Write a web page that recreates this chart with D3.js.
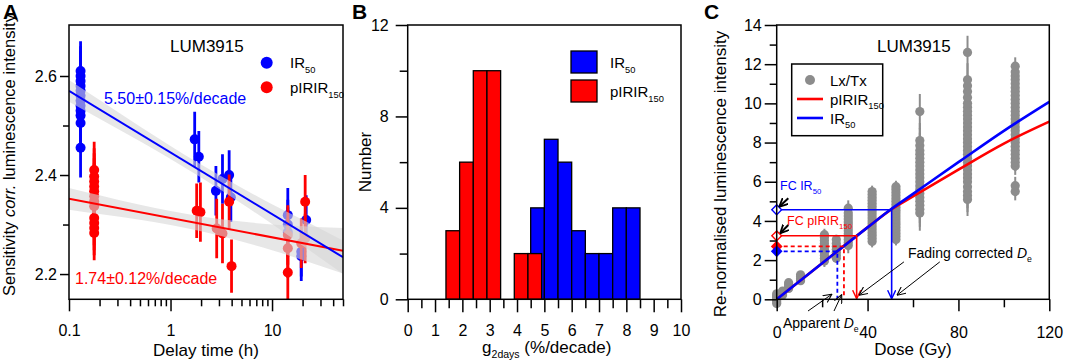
<!DOCTYPE html>
<html>
<head>
<meta charset="utf-8">
<script src="https://cdn.jsdelivr.net/npm/d3@7"></script>
<style>
  body { margin: 0; background: #fff; }
  svg text { font-family: "Liberation Sans", Arial, Helvetica, sans-serif; }
</style>
</head>
<body>
<svg id="fig" width="1065" height="364"></svg>
<script>
// ---------- Panel A : sensitivity corrected intensity vs delay time ----------
var irT   = [0.13,0.13,0.13,0.13,0.13,0.13,0.13,0.13,0.13,0.13,0.13,0.13, 1.73,1.9,2.8,3.25,3.78,3.93, 14.3,14.3,14.3,19.4,19.4,21.7];
var irVal = [2.61,2.60,2.59,2.58,2.57,2.56,2.55,2.54,2.53,2.52,2.505,2.455, 2.472,2.437,2.368,2.392,2.40,2.355, 2.319,2.30,2.285,2.245,2.236,2.309];
var irErr = [0.06,0.06,0.06,0.06,0.06,0.06,0.06,0.06,0.06,0.06,0.06,0.06, 0.056,0.052,0.05,0.05,0.05,0.05, 0.055,0.05,0.05,0.05,0.05,0.05];

var pirT   = [0.177,0.177,0.177,0.177,0.177,0.177,0.177,0.177,0.177,0.177,0.177,0.177, 1.81,1.97,2.85,3.25,3.78,3.99, 14.3,14.3,14.3,19.4,21.2,21.2];
var pirVal = [2.41,2.397,2.387,2.377,2.367,2.357,2.347,2.337,2.313,2.303,2.293,2.283, 2.328,2.325,2.292,2.282,2.346,2.216, 2.279,2.252,2.203,2.262,2.272,2.346];
var pirErr = [0.057,0.057,0.057,0.057,0.057,0.057,0.057,0.057,0.055,0.055,0.055,0.055, 0.055,0.06,0.06,0.06,0.055,0.054, 0.06,0.06,0.063,0.05,0.05,0.054];

// fitted lines (ends) and confidence band half-widths
var fitT   = [0.1, 50];
var fitIr  = [2.570, 2.234];
var fitPir = [2.352, 2.247];
var bandT    = [0.1, 0.2, 0.5, 1, 2, 5, 10, 20, 50];
var bandIr   = [0.022, 0.019, 0.015, 0.013, 0.013, 0.016, 0.020, 0.026, 0.034];
var bandPir  = [0.022, 0.019, 0.015, 0.014, 0.015, 0.020, 0.026, 0.034, 0.046];

var aMajor = [0.1, 1, 10];
var aMinor = [0.2,0.3,0.4,0.5,0.6,0.7,0.8,0.9, 2,3,4,5,6,7,8,9, 20,30,40,50];
var aYMajor = [2.2, 2.4, 2.6];
var aYMinor = [2.3, 2.5];

// ---------- Panel B : histogram of g2days ----------
var binW = 0.5;
var redBinLo  = [1.4, 1.9, 2.4, 2.9, 3.9, 4.4];
var redCount  = [3, 6, 10, 10, 2, 2];
var blueBinLo = [4.5, 5.0, 5.5, 6.0, 6.5, 7.0, 7.5, 8.0];
var blueCount = [4, 7, 6, 3, 2, 2, 4, 4];
var bXMajor = [0,1,2,3,4,5,6,7,8,9,10];
var bXMinor = [0.5,1.5,2.5,3.5,4.5,5.5,6.5,7.5,8.5,9.5];
var bYMajor = [0, 4, 8, 12];
var bYMinor = [2, 6, 10];

// ---------- Panel C : dose response ----------
var lxDose = [0, 2.6, 5.25, 10.5, 21, 26.25, 31.5, 42, 52.5, 63, 84, 105];
var lxVals = [
  [-0.22,-0.12,-0.02,0.05,0.12,0.2,0.28],
  [0.22,0.32,0.42],
  [0.55,0.65,0.75,0.85],
  [0.95,1.05,1.15,1.25],
  [1.95,2.1,2.25,2.4,2.55,2.7,2.85,3.0,3.15,3.3],
  [2.1,2.25,2.4,2.55,2.7,2.85,3.05],
  [2.75,2.9,3.05,3.2,3.35,3.5,3.65,3.8,3.95,4.1,4.25,4.4,4.65],
  [2.95,3.1,3.25,3.4,3.55,3.7,3.85,4.0,4.15,4.3,4.45,4.6,4.75,4.9,5.05,5.2,5.35,5.5],
  [3.05,3.2,3.35,3.5,3.65,3.8,3.95,4.1,4.25,4.4,4.55,4.7,4.85,5.0,5.15,5.3,5.45,5.6,5.75],
  [4.4,4.6,4.8,5.0,5.2,5.4,5.6,5.8,6.0,6.2,6.4,6.6,6.8,7.0,7.2,7.4,7.6,7.85,8.1,9.58],
  [5.1,5.3,5.5,5.75,6.0,6.2,6.4,6.6,6.8,7.0,7.2,7.4,7.6,7.8,8.0,8.2,8.4,8.6,8.8,9.0,9.2,9.4,9.6,9.8,10.0,10.3,10.6,10.9,11.2,12.6],
  [5.5,5.8,6.8,7.0,7.2,7.4,7.6,7.8,8.0,8.2,8.4,8.6,8.8,9.0,9.2,9.4,9.6,9.8,10.0,10.2,10.4,10.6,10.8,11.0,11.2,11.4,11.6,11.9]
];
var lxErr = [0.15, 0.1, 0.1, 0.1, 0.3, 0.25, 0.4, 0.3, 0.3, 0.9, 0.85, 0.45];

var fitDose = [0, 20, 40, 50, 60, 80, 100, 120];
var fitIrC  = [0, 1.84, 3.67, 4.57, 5.38, 7.0, 8.6, 10.08];
var fitPirC = [0, 1.84, 3.67, 4.55, 5.25, 6.62, 7.95, 9.07];

// fading corrected / apparent intensities and doses
var fcIr = 4.57, fcPir = 3.24, apIr = 2.45, apPir = 2.70;
var deFcIr = 50.6, deFcPir = 35.2, deApIr = 26.7, deApPir = 29.6;

var cXMajor = [0, 40, 80, 120];
var cXMinor = [20, 60, 100];
var cYMajor = [0,2,4,6,8,10,12,14];
var cYMinor = [1,3,5,7,9,11,13];

var BLUE = "#0000ff", RED = "#ff0000", GREY = "#8c8c8c";

var svg = d3.select("#fig");
svg.append("rect").attr("width", 1065).attr("height", 364).attr("fill", "#fff");

// text with italic / subscript parts
function richText(x, y, parts, size, color, anchor, rotate) {
  var t = svg.append("text")
    .attr("x", x).attr("y", y)
    .attr("font-size", size)
    .attr("fill", color || "#000")
    .attr("text-anchor", anchor || "start");
  if (rotate) t.attr("transform", "rotate(-90," + x + "," + y + ")");
  var shift = 0;
  parts.forEach(function(p) {
    if (typeof p === "string") p = {t: p};
    var s = t.append("tspan").text(p.t);
    var dy;
    if (p.sub) { dy = size * 0.3 - shift; shift = size * 0.3; s.attr("font-size", size * 0.62); }
    else { dy = -shift; shift = 0; }
    if (dy) s.attr("dy", dy);
    if (p.it) s.attr("font-style", "italic");
  });
  return t;
}

function styleAxis(g, size) {
  g.attr("font-family", null).attr("font-size", null);
  g.select(".domain").remove();
  g.selectAll("line").attr("stroke", "#000").attr("stroke-width", 1.5);
  g.selectAll("text").attr("font-size", size || 16).attr("fill", "#000");
}

function frame(x0, y0, x1, y1) {
  svg.append("rect").attr("x", x0).attr("y", y0)
    .attr("width", x1 - x0).attr("height", y1 - y0)
    .attr("fill", "none").attr("stroke", "#000").attr("stroke-width", 1.5);
}

var defs = svg.append("defs");
function head(id, color, w) {
  defs.append("marker").attr("id", id)
    .attr("viewBox", "0 -5 10 10").attr("refX", 9).attr("refY", 0)
    .attr("markerWidth", 9).attr("markerHeight", 9)
    .attr("markerUnits", "userSpaceOnUse").attr("orient", "auto")
    .append("path").attr("d", "M0,-4.5L9.5,0L0,4.5")
    .attr("fill", "none").attr("stroke", color).attr("stroke-width", w);
}
head("hThin", "#000", 1.2);
head("hBold", "#000", 2);
head("hRed", RED, 1.6);
head("hBlue", BLUE, 1.6);

// =================== Panel A ===================
var xA = d3.scaleLog().domain([0.1, 50]).range([69, 343]);
var yA = d3.scaleLinear().domain([2.149, 2.703]).range([299.3, 25]);

defs.append("clipPath").attr("id", "clipA").append("rect")
  .attr("x", 69).attr("y", 25).attr("width", 274).attr("height", 274.3);
var gA = svg.append("g").attr("clip-path", "url(#clipA)");

function seriesA(ts, vs, es, color) {
  var pts = ts.map(function(t, i) { return {t: t, v: vs[i], e: es[i]}; });
  gA.append("g").selectAll("line").data(pts).join("line")
    .attr("x1", function(d) { return xA(d.t); }).attr("x2", function(d) { return xA(d.t); })
    .attr("y1", function(d) { return yA(d.v - d.e); }).attr("y2", function(d) { return yA(d.v + d.e); })
    .attr("stroke", color).attr("stroke-width", 2.8);
  gA.append("g").selectAll("circle").data(pts).join("circle")
    .attr("cx", function(d) { return xA(d.t); }).attr("cy", function(d) { return yA(d.v); })
    .attr("r", 5).attr("fill", color);
}
seriesA(irT, irVal, irErr, BLUE);
seriesA(pirT, pirVal, pirErr, RED);

function bandA(fitVals, half) {
  var line = d3.scaleLog().domain(fitT).range(fitVals);
  var rows = bandT.map(function(t, i) { return {t: t, lo: line(t) - half[i], hi: line(t) + half[i]}; });
  gA.append("path").datum(rows)
    .attr("d", d3.area().curve(d3.curveMonotoneX)
      .x(function(d) { return xA(d.t); })
      .y0(function(d) { return yA(d.lo); })
      .y1(function(d) { return yA(d.hi); }))
    .attr("fill", "#d7d7d7").attr("fill-opacity", 0.6);
}
bandA(fitIr, bandIr);
bandA(fitPir, bandPir);

function fitLineA(vals, color) {
  gA.append("path").datum(fitT.map(function(t, i) { return [t, vals[i]]; }))
    .attr("d", d3.line().x(function(d) { return xA(d[0]); }).y(function(d) { return yA(d[1]); }))
    .attr("fill", "none").attr("stroke", color).attr("stroke-width", 2);
}
fitLineA(fitPir, RED);
fitLineA(fitIr, BLUE);

frame(69, 25, 343, 299.3);

styleAxis(svg.append("g").attr("transform", "translate(0,299.3)")
  .call(d3.axisBottom(xA).tickValues(aMajor).tickFormat(function(d) { return String(d); }).tickSize(12).tickPadding(13)));
styleAxis(svg.append("g").attr("transform", "translate(0,299.3)")
  .call(d3.axisBottom(xA).tickValues(aMinor).tickFormat("").tickSize(7)));
styleAxis(svg.append("g").attr("transform", "translate(69,0)")
  .call(d3.axisLeft(yA).tickValues(aYMajor).tickFormat(d3.format(".1f")).tickSize(9).tickPadding(3)));
styleAxis(svg.append("g").attr("transform", "translate(69,0)")
  .call(d3.axisLeft(yA).tickValues(aYMinor).tickFormat("").tickSize(6)));

richText(206, 356, ["Delay time (h)"], 17, "#000", "middle");
richText(15, 155, ["Sensitivity ", {t: "corr.", it: true}, " luminescence intensity"], 16.5, "#000", "middle", true);
richText(3, 19, ["A"], 21, "#000").attr("font-weight", "bold");
richText(170, 52, ["LUM3915"], 17, "#000");
svg.append("circle").attr("cx", 266.7).attr("cy", 62.7).attr("r", 6).attr("fill", BLUE);
svg.append("circle").attr("cx", 266.7).attr("cy", 87.3).attr("r", 6).attr("fill", RED);
richText(290, 68, ["IR", {t: "50", sub: true}], 15, "#000");
richText(290, 93, ["pIRIR", {t: "150", sub: true}], 15, "#000");
richText(104, 103.5, ["5.50\u00b10.15%/decade"], 16, BLUE);
richText(75, 284, ["1.74\u00b10.12%/decade"], 16, RED);

// =================== Panel B ===================
var xB = d3.scaleLinear().domain([0, 10]).range([407.7, 681]);
var yB = d3.scaleLinear().domain([0, 12]).range([299.3, 25]);

function barsB(lo, cnt, color) {
  svg.append("g").selectAll("rect").data(lo.map(function(l, i) { return {l: l, n: cnt[i]}; })).join("rect")
    .attr("x", function(d) { return xB(d.l); })
    .attr("width", function(d) { return xB(d.l + binW) - xB(d.l); })
    .attr("y", function(d) { return yB(d.n); })
    .attr("height", function(d) { return yB(0) - yB(d.n); })
    .attr("fill", color).attr("stroke", "#000").attr("stroke-width", 1.3);
}
barsB(blueBinLo, blueCount, BLUE);
barsB(redBinLo, redCount, RED);

frame(407.7, 25, 681, 299.3);
styleAxis(svg.append("g").attr("transform", "translate(0,299.3)")
  .call(d3.axisBottom(xB).tickValues(bXMajor).tickFormat(d3.format("d")).tickSize(13).tickPadding(12)));
styleAxis(svg.append("g").attr("transform", "translate(0,299.3)")
  .call(d3.axisBottom(xB).tickValues(bXMinor).tickFormat("").tickSize(9)));
styleAxis(svg.append("g").attr("transform", "translate(407.7,0)")
  .call(d3.axisLeft(yB).tickValues(bYMajor).tickFormat(d3.format("d")).tickSize(12).tickPadding(7)));
styleAxis(svg.append("g").attr("transform", "translate(407.7,0)")
  .call(d3.axisLeft(yB).tickValues(bYMinor).tickFormat("").tickSize(8)));

richText(546.7, 353, ["g", {t: "2days", sub: true}, " (%/decade)"], 17, "#000", "middle");
richText(371, 162, ["Number"], 17, "#000", "middle", true);
richText(352, 19, ["B"], 21, "#000").attr("font-weight", "bold");
svg.append("rect").attr("x", 571).attr("y", 51).attr("width", 26).attr("height", 22)
  .attr("fill", BLUE).attr("stroke", "#000").attr("stroke-width", 1.3);
svg.append("rect").attr("x", 571).attr("y", 80).attr("width", 26).attr("height", 22)
  .attr("fill", RED).attr("stroke", "#000").attr("stroke-width", 1.3);
richText(610, 68, ["IR", {t: "50", sub: true}], 15, "#000");
richText(610, 97, ["pIRIR", {t: "150", sub: true}], 15, "#000");

// =================== Panel C ===================
var xC = d3.scaleLinear().domain([0, 120]).range([776.7, 1049.3]);
var yC = d3.scaleLinear().domain([0, 14]).range([299.3, 25]);

var lxPts = [];
lxDose.forEach(function(d, i) {
  lxVals[i].forEach(function(v) { lxPts.push({d: d, v: v, e: lxErr[i]}); });
});
var gC = svg.append("g");
gC.append("g").selectAll("line").data(lxPts).join("line")
  .attr("x1", function(p) { return xC(p.d); }).attr("x2", function(p) { return xC(p.d); })
  .attr("y1", function(p) { return yC(p.v - p.e); }).attr("y2", function(p) { return yC(p.v + p.e); })
  .attr("stroke", GREY).attr("stroke-width", 2);
gC.append("g").selectAll("circle").data(lxPts).join("circle")
  .attr("cx", function(p) { return xC(p.d); }).attr("cy", function(p) { return yC(p.v); })
  .attr("r", 4.6).attr("fill", GREY);

var lineC = d3.line().curve(d3.curveMonotoneX)
  .x(function(d) { return xC(d[0]); }).y(function(d) { return yC(d[1]); });
gC.append("path").datum(fitDose.map(function(d, i) { return [d, fitPirC[i]]; }))
  .attr("d", lineC).attr("fill", "none").attr("stroke", RED).attr("stroke-width", 2.6);
gC.append("path").datum(fitDose.map(function(d, i) { return [d, fitIrC[i]]; }))
  .attr("d", lineC).attr("fill", "none").attr("stroke", BLUE).attr("stroke-width", 2.6);

function deLines(level, de, color, marker, dashed) {
  var path = d3.path();
  path.moveTo(xC(0), yC(level));
  path.lineTo(xC(de), yC(level));
  path.lineTo(xC(de), yC(0) - 1);
  var p = gC.append("path").attr("d", path.toString())
    .attr("fill", "none").attr("stroke", color).attr("stroke-width", dashed ? 1.8 : 1.6);
  if (dashed) p.attr("stroke-dasharray", "4,3");
  if (marker) p.attr("marker-end", "url(#" + marker + ")");
}
deLines(apIr, deApIr, BLUE, null, true);
deLines(apPir, deApPir, RED, null, true);
deLines(fcPir, deFcPir, RED, "hRed", false);
deLines(fcIr, deFcIr, BLUE, "hBlue", false);

var diamond = d3.symbol(d3.symbolSquare, 48);
function diamondAt(v, color, filled) {
  gC.append("path").attr("d", diamond())
    .attr("transform", "translate(" + xC(0) + "," + yC(v) + ") rotate(45)")
    .attr("fill", filled ? color : "#fff").attr("stroke", color).attr("stroke-width", 1.4);
}
diamondAt(fcIr, BLUE, false);
diamondAt(fcPir, RED, false);
diamondAt(apPir, RED, true);
diamondAt(apIr, BLUE, true);

function arrowC(x0, y0, x1, y1, marker, w) {
  gC.append("line").attr("x1", x0).attr("y1", y0).attr("x2", x1).attr("y2", y1)
    .attr("stroke", "#000").attr("stroke-width", w).attr("marker-end", "url(#" + marker + ")");
}
arrowC(788.3, 198.3, 779.5, 206.5, "hBold", 2);
arrowC(788.3, 225, 780.5, 233, "hBold", 2);
arrowC(xC(56.0), yC(1.91), xC(36.4), yC(0.22), "hThin", 1);
arrowC(xC(71.8), yC(1.91), xC(53.1), yC(0.22), "hThin", 1);
arrowC(808, 311, 831.5, 294.5, "hThin", 1);
arrowC(834, 311, 841.5, 295, "hThin", 1);

frame(776.7, 25, 1049.3, 299.3);
styleAxis(svg.append("g").attr("transform", "translate(0,299.3)")
  .call(d3.axisBottom(xC).tickValues(cXMajor).tickFormat(d3.format("d")).tickSize(12).tickPadding(15)));
styleAxis(svg.append("g").attr("transform", "translate(0,299.3)")
  .call(d3.axisBottom(xC).tickValues(cXMinor).tickFormat("").tickSize(8)));
styleAxis(svg.append("g").attr("transform", "translate(776.7,0)")
  .call(d3.axisLeft(yC).tickValues(cYMajor).tickFormat(d3.format("d")).tickSize(12).tickPadding(3)));
styleAxis(svg.append("g").attr("transform", "translate(776.7,0)")
  .call(d3.axisLeft(yC).tickValues(cYMinor).tickFormat("").tickSize(7)));

richText(913, 355, ["Dose (Gy)"], 17, "#000", "middle");
richText(726, 174, ["Re-normalised luminescence intensity"], 17, "#000", "middle", true);
richText(704, 19, ["C"], 21, "#000").attr("font-weight", "bold");
richText(877, 52, ["LUM3915"], 17, "#000");

// legend
svg.append("rect").attr("x", 791.7).attr("y", 64).attr("width", 91).attr("height", 71.7)
  .attr("fill", "#fff").attr("stroke", "#000").attr("stroke-width", 1.5);
svg.append("circle").attr("cx", 810).attr("cy", 80).attr("r", 5).attr("fill", GREY);
svg.append("line").attr("x1", 797).attr("x2", 823).attr("y1", 99).attr("y2", 99).attr("stroke", RED).attr("stroke-width", 2.6);
svg.append("line").attr("x1", 797).attr("x2", 823).attr("y1", 118).attr("y2", 118).attr("stroke", BLUE).attr("stroke-width", 2.6);
richText(830, 85.5, ["Lx/Tx"], 15, "#000");
richText(830, 104.5, ["pIRIR", {t: "150", sub: true}], 15, "#000");
richText(830, 123.5, ["IR", {t: "50", sub: true}], 15, "#000");

richText(780, 190, ["FC IR", {t: "50", sub: true}], 12.5, BLUE);
richText(787, 225, ["FC pIRIR", {t: "150", sub: true}], 12.5, RED);
richText(908, 258, ["Fading corrected ", {t: "D", it: true}, {t: "e", sub: true}], 14, "#000");
richText(783, 328, ["Apparent ", {t: "D", it: true}, {t: "e", sub: true}], 14, "#000");
</script>
</body>
</html>
